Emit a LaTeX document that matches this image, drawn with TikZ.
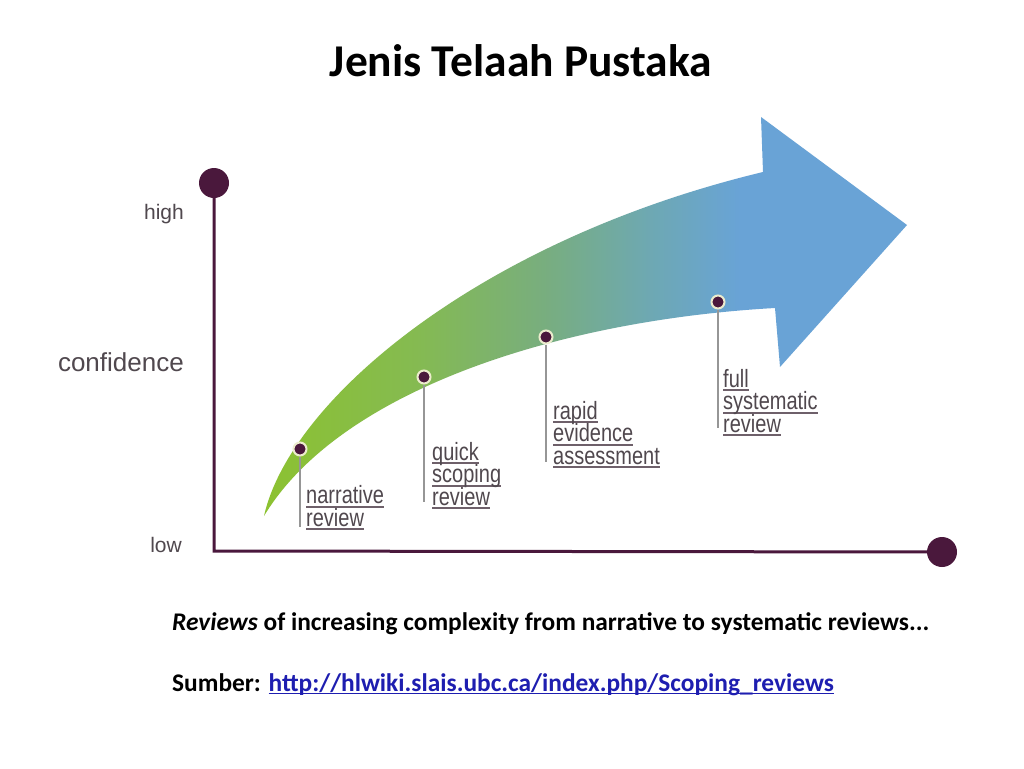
\documentclass[tikz,border=0pt]{standalone}
\usepackage{fontspec}
\setmainfont{Carlito}
\newfontfamily\labfont[FakeStretch=0.8]{Liberation Sans}
\newfontfamily\axfont{Liberation Sans}
\definecolor{axisc}{RGB}{74,24,60}
\definecolor{labc}{RGB}{80,72,78}
\definecolor{ulc}{RGB}{110,96,106}
\definecolor{stemc}{RGB}{150,150,150}
\definecolor{linkc}{RGB}{30,30,176}
\definecolor{ringc}{RGB}{236,236,205}
\pgfdeclarehorizontalshading{arrowshade}{100bp}{rgb(0bp)=(0.55,0.76,0.19); rgb(25bp)=(0.55,0.76,0.19); rgb(37bp)=(0.52,0.73,0.32); rgb(47bp)=(0.47,0.68,0.50); rgb(55bp)=(0.43,0.66,0.70); rgb(62bp)=(0.41,0.64,0.84); rgb(100bp)=(0.41,0.64,0.84)}
\newcommand\myul[1]{\setbox0\hbox{#1}\rlap{\color{ulc}\rule[-4pt]{\wd0}{1.6pt}}\box0}
\newcommand\linkul[1]{\setbox0\hbox{#1}\rlap{\rule[-3pt]{\wd0}{1.5pt}}\box0}
\newcommand\labsetup{\labfont\fontsize{25}{22.5}\selectfont\lineskiplimit-50pt\relax}
\begin{document}
\begin{tikzpicture}[x=1pt,y=-1pt,
  axis/.style={draw=axisc,line width=3pt},
  bigdot/.style={circle,fill=axisc,minimum size=30pt,inner sep=0pt},
  ptdot/.style={circle,fill=axisc,draw=ringc,line width=2pt,minimum size=13pt,inner sep=0pt},
  stem/.style={draw=stemc,line width=2pt},
  lab/.style={anchor=base west,inner sep=0pt,align=left,text=labc,font=\labsetup},
  axlab/.style={anchor=base east,inner sep=0pt,text=labc},
  body/.style={anchor=base west,inner sep=0pt,font=\bfseries\fontsize{25.4}{30}\selectfont}]
\useasboundingbox[fill=white] (0,0) rectangle (1024,768);
% title
\node[anchor=base,inner sep=0pt,font=\bfseries\fontsize{45.5}{54}\selectfont] (title) at (521,77) {Jenis Telaah Pustaka};
% arrow
\shade[shading=arrowshade]
  (264,516) .. controls (290,400) and (480,240) .. (763,172)
  -- (761,117) -- (907,225) -- (780,367) -- (775,308)
  .. controls (560,320) and (340,390) .. (264,516) -- cycle;
% axes
\node[bigdot] (top) at (214,183) {};
\node[bigdot] (right) at (942,552) {};
\coordinate (origin) at (214,551);
\draw[axis] (top.center) -- (origin) -- (right.center);
\node[axlab,font=\axfont\fontsize{21}{24}\selectfont] (high) at (184,219) {high};
\node[axlab,font=\axfont\fontsize{26}{28}\selectfont] (conf) at (184,371) {confidence};
\node[axlab,font=\axfont\fontsize{21}{24}\selectfont] (low) at (182,552) {low};
% points
\coordinate (s1) at (300,527);
\coordinate (s2) at (424,502);
\coordinate (s3) at (546,462);
\coordinate (s4) at (718,428);
\node[ptdot] (d1) at (300,449) {};
\node[ptdot] (d2) at (424,377) {};
\node[ptdot] (d3) at (546,337) {};
\node[ptdot] (d4) at (718,302) {};
\draw[stem] (d1.south) -- (s1);
\draw[stem] (d2.south) -- (s2);
\draw[stem] (d3.south) -- (s3);
\draw[stem] (d4.south) -- (s4);
\node[lab] (l1) at (306,526) {\myul{narrative}\\\myul{review}};
\node[lab] (l2) at (432,505) {\myul{quick}\\\myul{scoping}\\\myul{review}};
\node[lab] (l3) at (553,464) {\myul{rapid}\\\myul{evidence}\\\myul{assessment}};
\node[lab] (l4) at (723,432) {\myul{full}\\\myul{systematic}\\\myul{review}};
% caption
\node[body] (cap) at (172,630) {\textit{Reviews} of increasing complexity from narrative to systematic reviews...};
\node[body] (src) at (172,691) {Sumber: {\color{linkc}\linkul{http://hlwiki.slais.ubc.ca/index.php/Scoping\_reviews}}};
\end{tikzpicture}
\end{document}
